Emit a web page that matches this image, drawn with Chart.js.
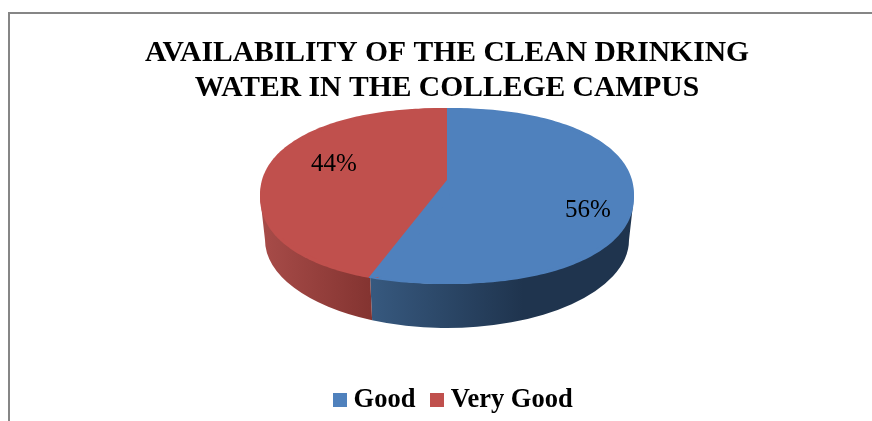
<!DOCTYPE html>
<html><head><meta charset="utf-8">
<style>html,body{margin:0;padding:0;background:#fff}#w{position:absolute;left:0;top:0;width:872px;height:421px}</style>
<script src="https://cdn.jsdelivr.net/npm/chart.js@4"></script></head>
<body><div id="w"><canvas id="c" width="872" height="421"></canvas></div>
<script>
const categories = ['Good', 'Very Good'];
const shares = [56, 44];
const titleLines = ['AVAILABILITY OF THE CLEAN DRINKING', 'WATER IN THE COLLEGE CAMPUS'];
const sliceColors = ['#4F81BD', '#C0504D'];
const wallStops = [['#37597f', '#1f344e'], ['#a84c49', '#843431']];
const labelSpots = [[588, 210], [334, 164]];

const TOP = {x: 447, y: 196, rx: 187, ry: 88, apexY: 180};
const BOT = {x: 447, y: 240, rx: 182, ry: 88};
const ROUNDNESS = 2.2;
const SERIF = '"Liberation Serif", "Times New Roman", serif';

// angle seen from the top of the pie, with a slight perspective pull towards the viewer
function warp(a) {
  const t = 0.12, X = Math.cos(a), Y = -Math.sin(a);
  const d = 1 + t * Y;
  return Math.atan2(-(Y + t) / d, X * Math.sqrt(1 - t * t) / d);
}
function rimPoint(a) {
  const c = Math.cos(a), s = Math.sin(a);
  const r = Math.pow(Math.pow(Math.abs(c), ROUNDNESS) + Math.pow(Math.abs(s), ROUNDNESS), -1 / ROUNDNESS);
  return [TOP.x + TOP.rx * c * r, TOP.y + TOP.ry * s * r];
}
function ePoint(e, a) { return [e.x + e.rx * Math.cos(a), e.y + e.ry * Math.sin(a)]; }

const pie3d = {
  id: 'pie3d',
  afterLayout(chart) {
    const lg = chart.legend;
    const dx = 6, dy = 6;
    lg.left += dx; lg.right += dx; lg.top += dy; lg.bottom += dy;
    lg.legendHitBoxes.forEach(b => { b.left += dx; b.top += dy; });
  },
  beforeDraw(chart) {
    const {ctx} = chart;
    ctx.save();
    ctx.strokeStyle = '#868686';
    ctx.lineWidth = 2;
    ctx.beginPath();
    ctx.moveTo(9, 421); ctx.lineTo(9, 13); ctx.lineTo(872, 13);
    ctx.stroke();
    ctx.restore();
  },
  beforeDatasetsDraw(chart) {
    const {ctx} = chart;
    const arcs = chart.getDatasetMeta(0).data;
    const norm = v => { v %= 2 * Math.PI; return v < -Math.PI / 2 ? v + 2 * Math.PI : v; };
    ctx.save();
    // side wall
    arcs.forEach((arc, i) => {
      const s = norm(warp(arc.startAngle)), e = norm(warp(arc.endAngle));
      const from = Math.max(0, Math.min(s, e));
      const to = Math.min(Math.PI, Math.max(s, e));
      if (to <= from) return;
      const [x0] = ePoint(TOP, from), [x1] = ePoint(TOP, to);
      const g = ctx.createLinearGradient(Math.min(x0, x1), 0, Math.max(x0, x1), 0);
      if (i === 0) {
        g.addColorStop(0, wallStops[0][0]);
        g.addColorStop(0.58, wallStops[0][1]);
        g.addColorStop(1, wallStops[0][1]);
      } else {
        g.addColorStop(0, wallStops[1][0]);
        g.addColorStop(1, wallStops[1][1]);
      }
      ctx.fillStyle = g;
      ctx.beginPath();
      ctx.ellipse(TOP.x, TOP.y, TOP.rx, TOP.ry, 0, from, to, false);
      ctx.ellipse(BOT.x, BOT.y, BOT.rx, BOT.ry, 0, to, from, true);
      ctx.closePath();
      ctx.fill();
    });
    // slightly fuller rim under the library's arcs
    arcs.forEach((arc, i) => {
      const s = warp(arc.startAngle);
      let e = warp(arc.endAngle);
      while (e <= s) e += 2 * Math.PI;
      ctx.fillStyle = sliceColors[i];
      ctx.beginPath();
      ctx.moveTo(TOP.x, TOP.y);
      const steps = 160;
      for (let k = 0; k <= steps; k++) {
        const [x, y] = rimPoint(s + (e - s) * k / steps);
        ctx.lineTo(x, y);
      }
      ctx.closePath();
      ctx.fill();
    });
    ctx.restore();
    // flatten the library's arcs onto the tilted ellipse
    const a0 = arcs[0];
    ctx.save();
    ctx.translate(TOP.x, TOP.y);
    ctx.scale(TOP.rx / a0.outerRadius, TOP.ry / a0.outerRadius);
    ctx.translate(-a0.x, -a0.y);
  },
  afterDatasetsDraw(chart) {
    const {ctx} = chart;
    ctx.restore();
    const arcs = chart.getDatasetMeta(0).data;
    // move the shared seam from the ellipse centre to the perspective apex
    const affine = ePoint(TOP, arcs[0].endAngle);
    const seen = rimPoint(warp(arcs[0].endAngle));
    ctx.save();
    ctx.fillStyle = sliceColors[0];
    ctx.beginPath();
    ctx.moveTo(TOP.x, TOP.apexY);
    ctx.lineTo(TOP.x + 3, TOP.y + 3);
    ctx.lineTo(affine[0] + 3, affine[1] - 1);
    ctx.lineTo(seen[0], seen[1]);
    ctx.closePath();
    ctx.fill();
    ctx.restore();
    // data labels
    ctx.save();
    ctx.fillStyle = '#000';
    ctx.font = '25px ' + SERIF;
    ctx.textAlign = 'center';
    ctx.textBaseline = 'middle';
    shares.forEach((v, i) => ctx.fillText(v + '%', labelSpots[i][0], labelSpots[i][1]));
    ctx.restore();
  },
  afterDraw(chart) {
    const {ctx, legend} = chart;
    ctx.save();
    legend.legendHitBoxes.forEach((b, i) => {
      ctx.fillStyle = sliceColors[i];
      ctx.fillRect(Math.round(b.left), Math.round(b.top + (b.height - 14) / 2 - 6), 14, 14);
    });
    ctx.restore();
  }
};

new Chart(document.getElementById('c'), {
  type: 'pie',
  data: {
    labels: categories,
    datasets: [{data: shares, backgroundColor: sliceColors, borderWidth: 0}]
  },
  options: {
    responsive: false,
    animation: false,
    layout: {padding: {top: 36, bottom: 4, left: 22, right: 0}},
    plugins: {
      tooltip: {enabled: false},
      title: {
        display: true,
        text: titleLines,
        color: '#000',
        font: {family: SERIF, size: 29.6, weight: 'bold', lineHeight: 1.18},
        padding: {top: 0, bottom: 0}
      },
      legend: {
        position: 'bottom',
        labels: {
          color: '#000',
          font: {family: SERIF, size: 26.5, weight: 'bold'},
          boxWidth: 7,
          boxHeight: 1,
          padding: 15,
          generateLabels: () => categories.map((t, i) => ({
            text: t, fillStyle: 'rgba(0,0,0,0)', strokeStyle: 'rgba(0,0,0,0)', lineWidth: 0, index: i
          }))
        }
      }
    }
  },
  plugins: [pie3d]
});
</script></body></html>
